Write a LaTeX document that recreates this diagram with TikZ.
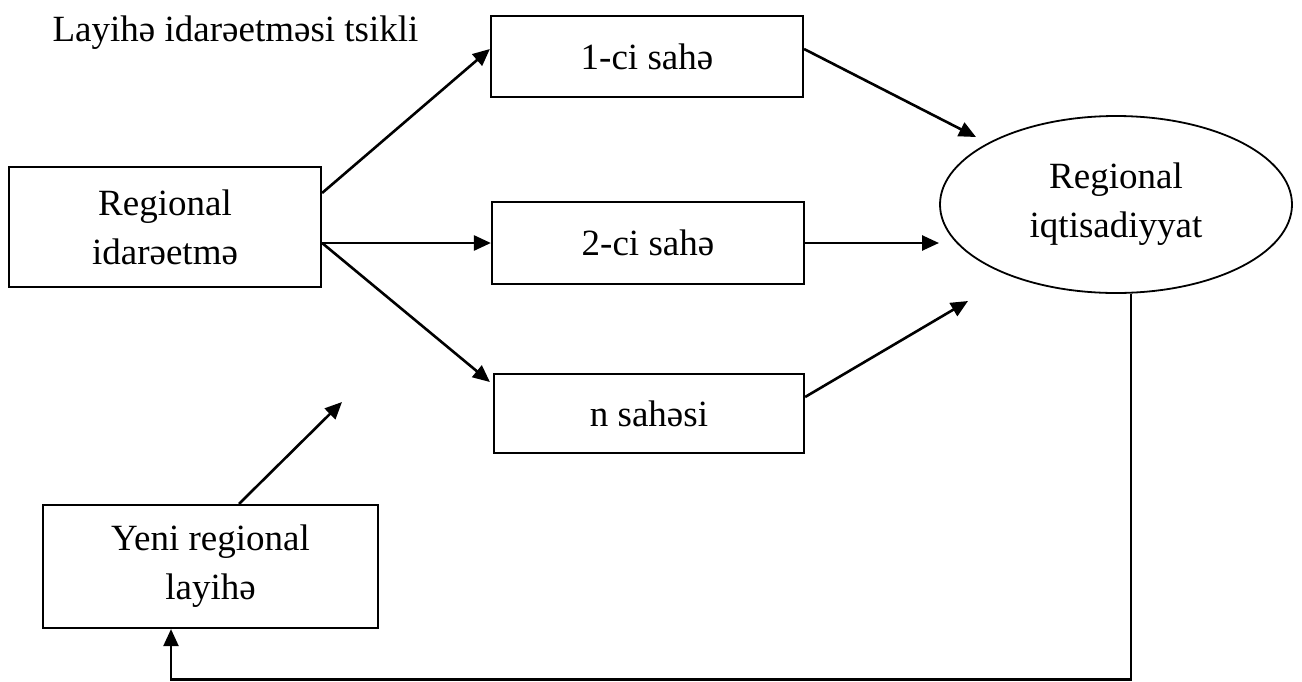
\documentclass[tikz,border=0pt]{standalone}
\usepackage{fontspec}
\setmainfont{Liberation Serif}
\usetikzlibrary{shapes.geometric,arrows.meta}

\begin{document}
\begin{tikzpicture}[x=0.5pt,y=-0.5pt,
  every node/.style={font=\fontsize{18.5}{24.5}\selectfont},
  box/.style={draw,line width=1.1pt,rectangle,inner sep=0pt,align=center},
  link/.style={line width=1.3pt,-{Triangle[length=8.5pt,width=7.5pt]}},
  loopline/.style={line width=1.1pt,-{Triangle[length=8.5pt,width=7.5pt]}},
]
\useasboundingbox (0,0) rectangle (1302,681);

% title
\node[anchor=base] (title) at (235.5,41) {Layihə idarəetməsi tsikli};

% boxes
\node[box,minimum width=156pt,minimum height=60pt] (reg) at (165,227) {Regional\\idarəetmə};
\node[box,minimum width=156pt,minimum height=40.5pt] (s1) at (647,56.5) {1-ci sahə};
\node[box,minimum width=156pt,minimum height=41pt] (s2) at (648,243) {2-ci sahə};
\node[box,minimum width=155pt,minimum height=39.5pt] (s3) at (649,413.5) {n sahəsi};
\node[box,minimum width=167.5pt,minimum height=61.5pt] (new) at (210.5,566.5) {Yeni regional\\layihə};
\node[draw,ellipse,line width=0.9pt,inner sep=0pt,minimum width=176pt,minimum height=88.5pt,align=center]
  (eco) at (1116,204.5) {Regional\\iqtisadiyyat};

% arrow tips that stop short of the ellipse
\coordinate (e1) at (976,137);
\coordinate (e2) at (939,243);
\coordinate (e3) at (968,301);
\coordinate (free) at (342,402);
\coordinate (c1) at (1131,679.5);
\coordinate (c2) at (171,679.5);

% management to sectors
\draw[link] ([yshift=17pt]reg.east) -- ([yshift=3.75pt]s1.west);
\draw[link] ([yshift=-8pt]reg.east) -- (s2.west);
\draw[link] ([yshift=-8pt]reg.east) -- ([xshift=-1.5pt,yshift=15.75pt]s3.west);

% sectors to the regional economy
\draw[link] ([yshift=3.75pt]s1.east) -- (e1);
\draw[link] (s2.east) -- (e2);
\draw[link] ([yshift=8.25pt]s3.east) -- (e3);

% new project arrow
\draw[link] ([xshift=14.25pt]new.north) -- (free);

% feedback loop
\draw[loopline] ([xshift=7.5pt]eco.south) -- (c1) -- (c2) -- ([xshift=-19.75pt]new.south);
\end{tikzpicture}
\end{document}
